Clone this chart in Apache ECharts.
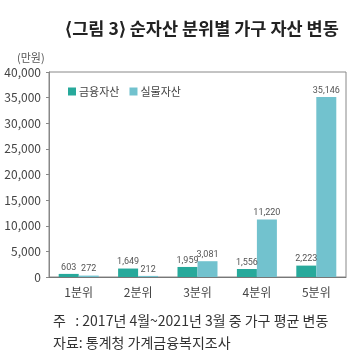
<!DOCTYPE html>
<html>
<head>
<meta charset="utf-8">
<script src="https://cdn.jsdelivr.net/npm/echarts@6/dist/echarts.min.js"></script>
<style>
  html, body { margin: 0; padding: 0; background: #fff; }
  #chart-container { width: 354px; height: 353px; }
</style>
</head>
<body>
<div id="chart-container"></div>
<script>
var categories = ['1분위', '2분위', '3분위', '4분위', '5분위'];
var financial = [603, 1649, 1959, 1556, 2223];
var realAssets = [272, 212, 3081, 11220, 35146];
var seriesNames = ['금융자산', '실물자산'];

var font = 'Noto Sans CJK KR';
var chartDom = document.getElementById('chart-container');
var myChart = echarts.init(chartDom);

var barLabel = {
  show: true,
  position: 'top',
  distance: 2,
  fontSize: 9,
  color: '#555',
  fontFamily: 'Roboto',
  formatter: function (p) { return p.value.toLocaleString('en-US'); }
};

var option = {
  animation: false,
  textStyle: { fontFamily: font },
  title: [
    {
      text: '⟨그림 3⟩ 순자산 분위별 가구 자산 변동',
      left: 197, top: 15, textAlign: 'center',
      textStyle: { fontSize: 17.5, fontWeight: 'bold', color: '#222', fontFamily: font }
    },
    {
      text: '(만원)',
      left: 12, top: 47,
      textStyle: { fontSize: 11, fontWeight: 'normal', color: '#555', fontFamily: font }
    },
    {
      text: '주   : 2017년 4월~2021년 3월 중 가구 평균 변동',
      left: 48, top: 309,
      textStyle: { fontSize: 14, fontWeight: 'normal', color: '#333', fontFamily: font }
    },
    {
      text: '자료: 통계청 가계금융복지조사',
      left: 48, top: 331,
      textStyle: { fontSize: 14, fontWeight: 'normal', color: '#333', fontFamily: font }
    }
  ],
  legend: {
    left: 63, top: 81,
    itemWidth: 8, itemHeight: 8, itemGap: 10,
    icon: 'rect',
    textStyle: { fontSize: 11, color: '#444', fontFamily: font, padding: [0, 0, 0, -2] },
    data: seriesNames
  },
  grid: {
    left: 49, right: 8, top: 72, bottom: 76,
    show: true, borderColor: '#888', borderWidth: 1
  },
  xAxis: {
    type: 'category',
    data: categories,
    axisLine: { lineStyle: { color: '#777' } },
    axisTick: { inside: true, length: 4, lineStyle: { color: '#444' } },
    axisLabel: { fontSize: 12, color: '#444', margin: 9, fontFamily: font }
  },
  yAxis: {
    type: 'value',
    min: 0, max: 40000, interval: 5000,
    axisLine: { show: true, lineStyle: { color: '#888' } },
    axisTick: { show: true, length: 3, lineStyle: { color: '#888' } },
    splitLine: { show: false },
    axisLabel: {
      fontSize: 12, color: '#444', margin: 8, fontFamily: font,
      formatter: function (v) { return v.toLocaleString('en-US'); }
    }
  },
  series: [
    {
      name: seriesNames[0], type: 'bar', data: financial,
      barWidth: 20, barGap: '0%',
      itemStyle: { color: '#27A99B' },
      label: barLabel
    },
    {
      name: seriesNames[1], type: 'bar', data: realAssets,
      barWidth: 20,
      itemStyle: { color: '#72C2CE' },
      label: barLabel
    }
  ]
};

option && myChart.setOption(option);
</script>
</body>
</html>
